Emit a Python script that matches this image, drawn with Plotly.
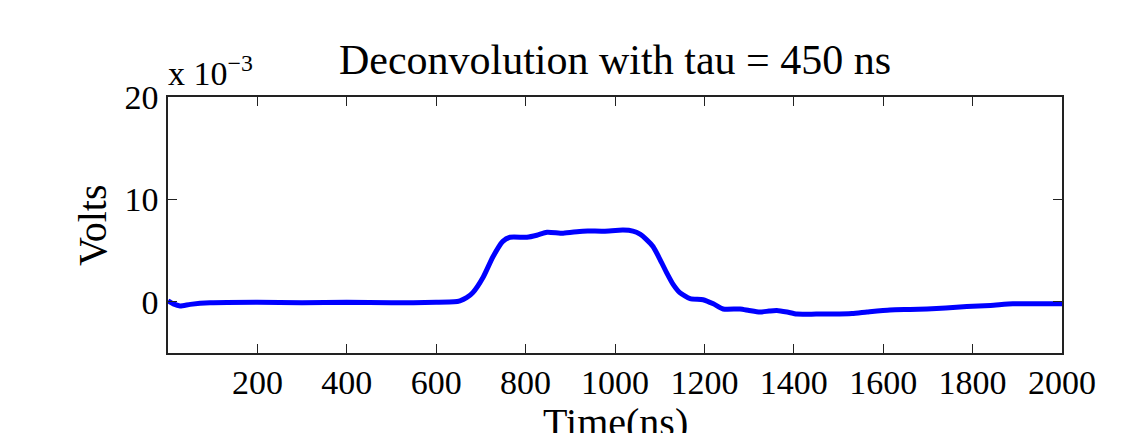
import plotly.graph_objects as go

# Time (ns) and signal (x 10^-3 V)
time_ns = [0, 12, 27, 50, 94, 200, 300, 400, 500, 600, 640, 653, 668, 682, 705, 727, 749, 765,
           803, 825, 848, 884, 928, 975, 1018, 1040, 1056, 1070, 1085, 1100, 1116, 1130, 1145,
           1168, 1197, 1220, 1242, 1280, 1300, 1324, 1345, 1362, 1385, 1407, 1450, 1488,
           1530, 1564, 1615, 1660, 1698, 1740, 1787, 1840, 1890, 1950, 2000]
volts_e3 = [0.1, -0.2, -0.4, -0.25, -0.1, -0.05, -0.1, -0.05, -0.1, -0.05, 0.0, 0.1, 0.4, 0.9,
            2.4, 4.4, 5.9, 6.3, 6.3, 6.5, 6.8, 6.7, 6.9, 6.9, 7.0, 6.9, 6.6, 6.1, 5.4, 4.2,
            2.8, 1.7, 0.9, 0.3, 0.2, -0.2, -0.7, -0.7, -0.85, -1.0, -0.9, -0.85, -1.0, -1.2,
            -1.2, -1.2, -1.15, -1.0, -0.8, -0.75, -0.7, -0.6, -0.45, -0.35, -0.2, -0.2, -0.2]

x_ticks = [200, 400, 600, 800, 1000, 1200, 1400, 1600, 1800, 2000]
y_ticks = [0, 10, 20]

FONT = "Liberation Serif"

fig = go.Figure()
fig.add_trace(go.Scatter(
    x=time_ns, y=volts_e3, mode="lines",
    line=dict(color="#0000FF", width=5, shape="spline", smoothing=0.6),
    showlegend=False, hoverinfo="skip"))

axis_common = dict(
    showgrid=False, zeroline=False, showline=True, linecolor="#222222", linewidth=1.5,
    mirror="ticks", ticks="inside", ticklen=9, tickwidth=1.2, tickcolor="#222222",
    tickfont=dict(family=FONT, size=34, color="black"), automargin=False,
)

fig.update_layout(
    width=1141, height=433,
    margin=dict(l=168, r=79, t=97, b=80),
    paper_bgcolor="white", plot_bgcolor="white",
    title=dict(text="Deconvolution with tau = 450 ns", x=0.539, xanchor="center",
               yref="container", y=1 - 59 / 433, yanchor="middle", automargin=False,
               font=dict(family=FONT, size=42, color="black")),
    xaxis=dict(range=[0, 2000], tickvals=x_ticks, ticktext=[str(v) for v in x_ticks],
               ticklabelstandoff=-2, **axis_common),
    yaxis=dict(range=[-5, 20], tickvals=y_ticks, ticktext=[str(v) for v in y_ticks],
               ticklabelstandoff=1, **axis_common),
)

# Axis titles as annotations for exact placement
fig.add_annotation(
    text="Time(ns)", xref="paper", yref="paper", x=0.5, y=0,
    xanchor="center", yanchor="top", showarrow=False, yshift=-45,
    font=dict(family=FONT, size=40, color="black"))
fig.add_annotation(
    text="Volts", xref="paper", yref="paper", x=0, y=0.5, textangle=-90,
    xanchor="center", yanchor="middle", showarrow=False, xshift=-76,
    font=dict(family=FONT, size=40, color="black"))

fig.add_annotation(
    text="x 10<sup>−3</sup>", xref="paper", yref="paper", x=0.0, y=1.0,
    xanchor="left", yanchor="bottom", showarrow=False, yshift=3, xshift=-2,
    font=dict(family=FONT, size=34, color="black"))

fig.write_html("out.html")
